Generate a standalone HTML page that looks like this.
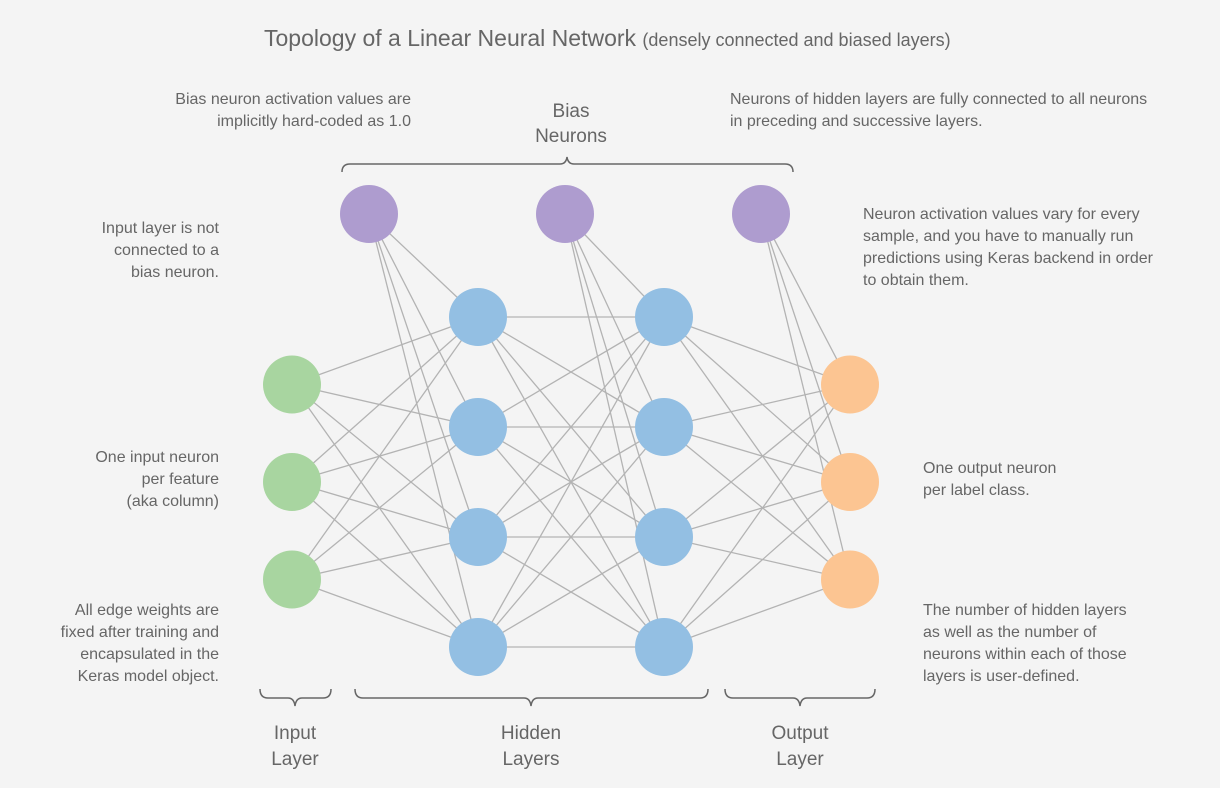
<!DOCTYPE html>
<html><head><meta charset="utf-8">
<style>
html,body{margin:0;padding:0;background:#f4f4f4;}
svg{display:block;}
text{font-family:"Liberation Sans Narrow","Liberation Sans",sans-serif;fill:#666;}
</style></head>
<body>
<svg id="chart" width="1220" height="788" viewBox="0 0 1220 788" xmlns="http://www.w3.org/2000/svg">
<rect width="1220" height="788" fill="#f4f4f4"/>
<g id="edges"></g>
<g id="nodes"></g>

<text x="264" y="46" font-size="23" fill="#666">Topology of a Linear Neural Network <tspan font-size="18">(densely connected and biased layers)</tspan></text>

<g fill="none" stroke="#666" stroke-width="1.5">
<path d="M342,172 Q342,164 350,164 L560,164 Q566,164 567,157 Q568,164 574,164 L785,164 Q793,164 793,172"/>
<path d="M260,689 Q260,698 268,698 L288,698 Q294,698 295,706 Q296,698 302,698 L323,698 Q331,698 331,689"/>
<path d="M355,689 Q355,698 363,698 L524,698 Q530,698 531,706 Q532,698 538,698 L700,698 Q708,698 708,689"/>
<path d="M725,689 Q725,698 733,698 L793,698 Q799,698 800,706 Q801,698 807,698 L867,698 Q875,698 875,689"/>
</g>

<g font-size="19" text-anchor="middle" fill="#444">
<text x="571" y="117" fill="#444">Bias</text>
<text x="571" y="142" fill="#444">Neurons</text>
<text x="295" y="739" fill="#444">Input</text>
<text x="295" y="765" fill="#444">Layer</text>
<text x="531" y="739" fill="#444">Hidden</text>
<text x="531" y="765" fill="#444">Layers</text>
<text x="800" y="739" fill="#444">Output</text>
<text x="800" y="765" fill="#444">Layer</text>
</g>

<g font-size="16" text-anchor="end">
<text x="411" y="104">Bias neuron activation values are</text>
<text x="411" y="126">implicitly hard-coded as 1.0</text>
<text x="219" y="233">Input layer is not</text>
<text x="219" y="255">connected to a</text>
<text x="219" y="277">bias neuron.</text>
<text x="219" y="462">One input neuron</text>
<text x="219" y="484">per feature</text>
<text x="219" y="506">(aka column)</text>
<text x="219" y="615">All edge weights are</text>
<text x="219" y="637">fixed after training and</text>
<text x="219" y="659">encapsulated in the</text>
<text x="219" y="681">Keras model object.</text>
</g>
<g font-size="16">
<text x="730" y="104">Neurons of hidden layers are fully connected to all neurons</text>
<text x="730" y="126">in preceding and successive layers.</text>
<text x="863" y="219">Neuron activation values vary for every</text>
<text x="863" y="241">sample, and you have to manually run</text>
<text x="863" y="263">predictions using Keras backend in order</text>
<text x="863" y="285">to obtain them.</text>
<text x="923" y="473">One output neuron</text>
<text x="923" y="495">per label class.</text>
<text x="923" y="615">The number of hidden layers</text>
<text x="923" y="637">as well as the number of</text>
<text x="923" y="659">neurons within each of those</text>
<text x="923" y="681">layers is user-defined.</text>
</g>
</svg>
<script>
const layerNames = ['input','hidden-1','hidden-2','output'];
const layerSizes = [3,4,4,3];
const layerColors = ['#a8d5a0','#93bfe3','#93bfe3','#fcc592'];
const biasTargets = [1,2,3];
const NS='http://www.w3.org/2000/svg';
const xOf = i => 292 + i*186;
const yOf = (j,n) => 482 + (j-(n-1)/2)*(n===4?110:97.5);
const biasX = t => 369 + (t-1)*196;
const biasY = 214;
const R = 29;
const eg = document.getElementById('edges'), ng = document.getElementById('nodes');
function line(x1,y1,x2,y2,name){
  const l=document.createElementNS(NS,'line');
  l.setAttribute('x1',x1);l.setAttribute('y1',y1);l.setAttribute('x2',x2);l.setAttribute('y2',y2);
  l.setAttribute('stroke','#b3b3b3');l.setAttribute('stroke-width','1.3');
  
  
  eg.appendChild(l);
}
function circle(cx,cy,fill,name){
  const c=document.createElementNS(NS,'circle');
  c.setAttribute('cx',cx);c.setAttribute('cy',cy);c.setAttribute('r',R);c.setAttribute('fill',fill);
  
  
  ng.appendChild(c);
}
for(let i=0;i<layerSizes.length-1;i++){
  for(let a=0;a<layerSizes[i];a++)for(let b=0;b<layerSizes[i+1];b++)
    line(xOf(i),yOf(a,layerSizes[i]),xOf(i+1),yOf(b,layerSizes[i+1]),'edge');
}
biasTargets.forEach(t=>{
  for(let b=0;b<layerSizes[t];b++) line(biasX(t),biasY,xOf(t),yOf(b,layerSizes[t]),'bias-edge');
});
layerSizes.forEach((n,i)=>{
  for(let j=0;j<n;j++) circle(xOf(i),yOf(j,n),layerColors[i],layerNames[i]+'-neuron');
});
biasTargets.forEach(t=>circle(biasX(t),biasY,'#ae9ccf','bias-neuron'));
</script>
</body></html>
